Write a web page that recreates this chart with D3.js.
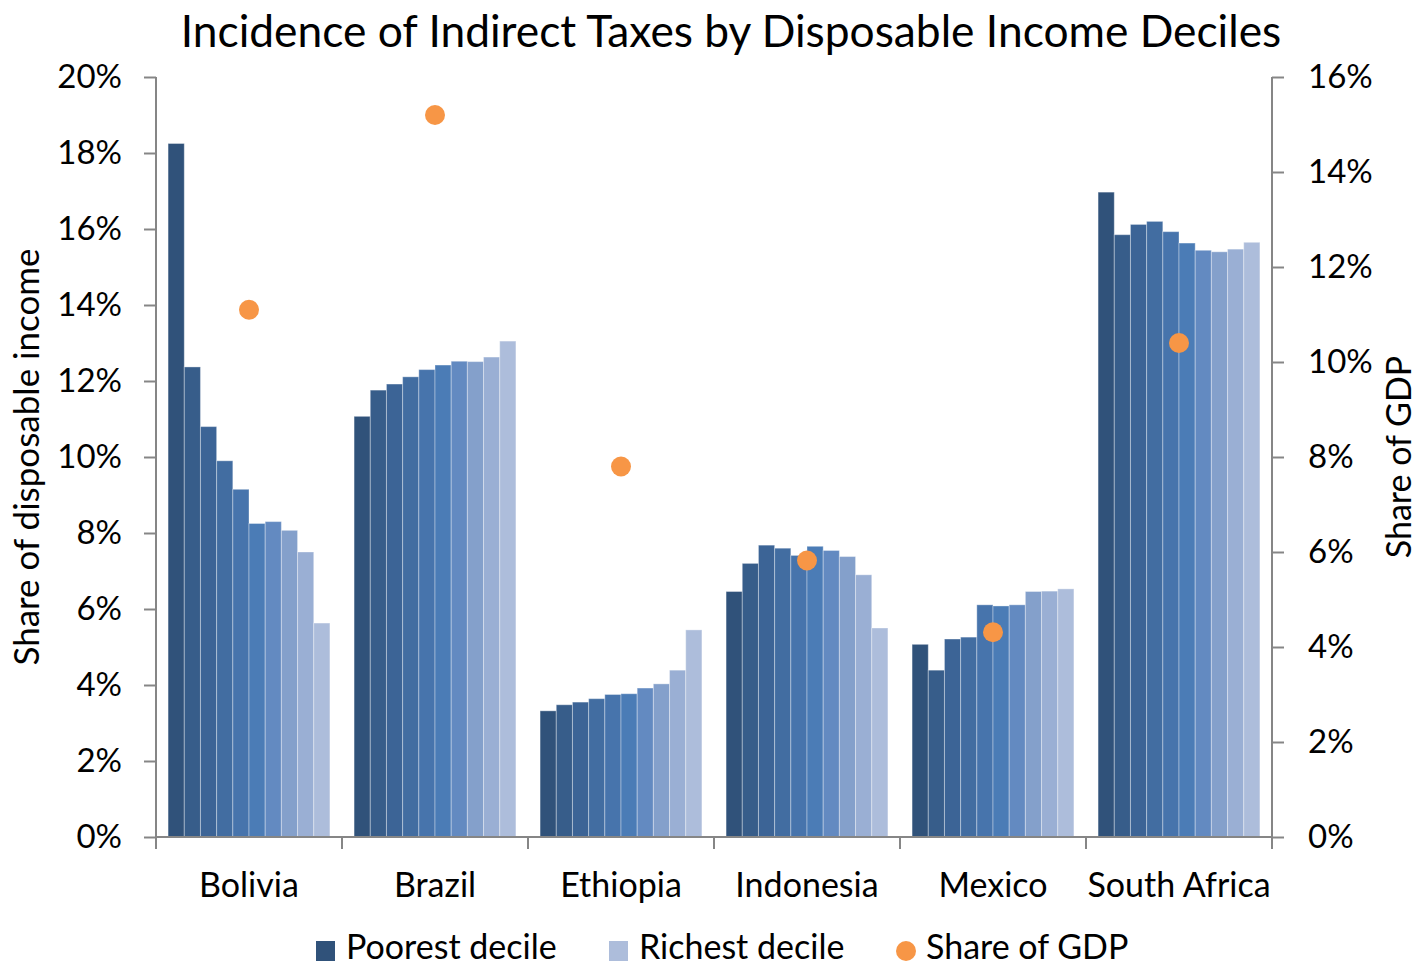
<!DOCTYPE html>
<html>
<head>
<meta charset="utf-8">
<script src="https://cdn.jsdelivr.net/npm/d3@7"></script>
<style>
  html, body { margin: 0; padding: 0; background: #fff; }
  svg { display: block; font-family: "Lato", "Open Sans", sans-serif; }
</style>
</head>
<body>
<svg id="chart" width="1418" height="966"></svg>
<script>
// Indirect tax burden as % of disposable income, by income decile (poorest -> richest)
const countries = ["Bolivia", "Brazil", "Ethiopia", "Indonesia", "Mexico", "South Africa"];
const deciles = ["D1", "D2", "D3", "D4", "D5", "D6", "D7", "D8", "D9", "D10"];

const bolivia     = [18.25, 12.37, 10.8, 9.9, 9.15, 8.25, 8.3, 8.07, 7.5, 5.63];
const brazil      = [11.07, 11.76, 11.92, 12.11, 12.3, 12.42, 12.52, 12.51, 12.63, 13.05];
const ethiopia    = [3.32, 3.48, 3.55, 3.64, 3.75, 3.77, 3.92, 4.03, 4.39, 5.45];
const indonesia   = [6.46, 7.2, 7.68, 7.6, 7.41, 7.65, 7.54, 7.38, 6.9, 5.5];
const mexico      = [5.07, 4.39, 5.21, 5.26, 6.11, 6.08, 6.11, 6.46, 6.47, 6.53];
const southAfrica = [16.97, 15.85, 16.12, 16.2, 15.93, 15.63, 15.44, 15.4, 15.47, 15.65];

// Indirect tax revenue as % of GDP (right axis)
const shareOfGDP = [11.1, 15.2, 7.8, 5.82, 4.31, 10.4];

const leftTicks  = [0, 2, 4, 6, 8, 10, 12, 14, 16, 18, 20];
const rightTicks = [0, 2, 4, 6, 8, 10, 12, 14, 16];

const decileColors = ["#30527a", "#375d8a", "#3c6496", "#426da1", "#4774ac", "#4b7cb6",
                      "#638ac1", "#84a0cb", "#9aafd4", "#adbddb"];

const series = [bolivia, brazil, ethiopia, indonesia, mexico, southAfrica];
const rows = countries.map((c, i) => ({ country: c, values: series[i], gdp: shareOfGDP[i] }));

const svg = d3.select("#chart");
const plotLeft = 156, plotRight = 1272, plotTop = 77, plotBottom = 837;
const axisColor = "#868686";
const tickFont = 33;
const labelFont = 34;

const x0 = d3.scaleBand().domain(countries).range([plotLeft, plotRight]).padding(0);
const groupPad = x0.bandwidth() * 0.065;
const x1 = d3.scaleBand().domain(deciles).range([groupPad, x0.bandwidth() - groupPad]).padding(0);
const yL = d3.scaleLinear().domain([0, 20]).range([plotBottom, plotTop]);
const yR = d3.scaleLinear().domain([0, 16]).range([plotBottom, plotTop]);

// Bars
const groups = svg.append("g").selectAll("g")
  .data(rows).join("g")
  .attr("transform", d => `translate(${x0(d.country)},0)`);

groups.selectAll("rect")
  .data(d => d.values.map((v, i) => ({ decile: deciles[i], v, i })))
  .join("rect")
  .attr("x", d => x1(d.decile))
  .attr("y", d => yL(d.v))
  .attr("width", x1.bandwidth())
  .attr("height", d => yL(0) - yL(d.v))
  .attr("fill", d => decileColors[d.i])
  .attr("stroke", "rgba(255,255,255,0.35)")
  .attr("stroke-width", 1);

// Share of GDP markers
svg.append("g").selectAll("circle")
  .data(rows).join("circle")
  .attr("cx", d => x0(d.country) + x0.bandwidth() / 2)
  .attr("cy", d => yR(d.gdp))
  .attr("r", 10)
  .attr("fill", "#f79646");

// Left axis
const leftAxis = d3.axisLeft(yL).tickValues(leftTicks).tickFormat(d => d + "%").tickSize(12).tickPadding(22);
const gL = svg.append("g").attr("transform", `translate(${plotLeft},0)`).call(leftAxis);

// Right axis
const rightAxis = d3.axisRight(yR).tickValues(rightTicks).tickFormat(d => d + "%").tickSize(12).tickPadding(24);
const gR = svg.append("g").attr("transform", `translate(${plotRight},0)`).call(rightAxis);

// Bottom axis with ticks at category boundaries
const gB = svg.append("g").attr("transform", `translate(0,${plotBottom})`);
gB.append("line").attr("x1", plotLeft).attr("x2", plotRight).attr("y1", 0).attr("y2", 0)
  .attr("stroke", axisColor).attr("stroke-width", 2);
const boundaries = countries.map(c => x0(c)).concat([plotRight]);
gB.selectAll("line.tick").data(boundaries).join("line").attr("class", "tick")
  .attr("x1", d => d).attr("x2", d => d).attr("y1", 0).attr("y2", 12)
  .attr("stroke", axisColor).attr("stroke-width", 2);
gB.selectAll("text").data(countries).join("text")
  .attr("x", d => x0(d) + x0.bandwidth() / 2)
  .attr("y", 60)
  .attr("text-anchor", "middle")
  .attr("font-size", labelFont)
  .attr("fill", "#000")
  .text(d => d);

[gL, gR].forEach(g => {
  g.select(".domain").attr("stroke", axisColor).attr("stroke-width", 2)
    .attr("d", `M0,${plotTop}V${plotBottom}`);
  g.selectAll(".tick line").attr("stroke", axisColor).attr("stroke-width", 2);
  g.selectAll(".tick text").attr("font-size", tickFont).attr("fill", "#000")
    .attr("font-family", "Lato, 'Open Sans', sans-serif");
});

// Title
svg.append("text")
  .attr("x", 731).attr("y", 47)
  .attr("text-anchor", "middle")
  .attr("font-size", 44.3)
  .attr("fill", "#000")
  .text("Incidence of Indirect Taxes by Disposable Income Deciles");

// Axis titles
svg.append("text")
  .attr("transform", `translate(39,${(plotTop + plotBottom) / 2}) rotate(-90)`)
  .attr("text-anchor", "middle")
  .attr("font-size", 35)
  .attr("fill", "#000")
  .text("Share of disposable income");

svg.append("text")
  .attr("transform", `translate(1411,${(plotTop + plotBottom) / 2}) rotate(-90)`)
  .attr("text-anchor", "middle")
  .attr("font-size", labelFont)
  .attr("fill", "#000")
  .text("Share of GDP");

// Legend
const legend = svg.append("g").attr("transform", "translate(0,950)");
const legendItems = [
  { label: "Poorest decile", x: 316, type: "rect", color: decileColors[0] },
  { label: "Richest decile", x: 609, type: "rect", color: decileColors[9] },
  { label: "Share of GDP",   x: 896, type: "circle", color: "#f79646" }
];
legendItems.forEach(it => {
  if (it.type === "rect") {
    legend.append("rect").attr("x", it.x).attr("y", -9).attr("width", 19).attr("height", 20).attr("fill", it.color);
  } else {
    legend.append("circle").attr("cx", it.x + 10).attr("cy", 1).attr("r", 10).attr("fill", it.color);
  }
  legend.append("text").attr("x", it.x + 30).attr("y", 9)
    .attr("font-size", labelFont).attr("fill", "#000").text(it.label);
});
</script>
</body>
</html>
